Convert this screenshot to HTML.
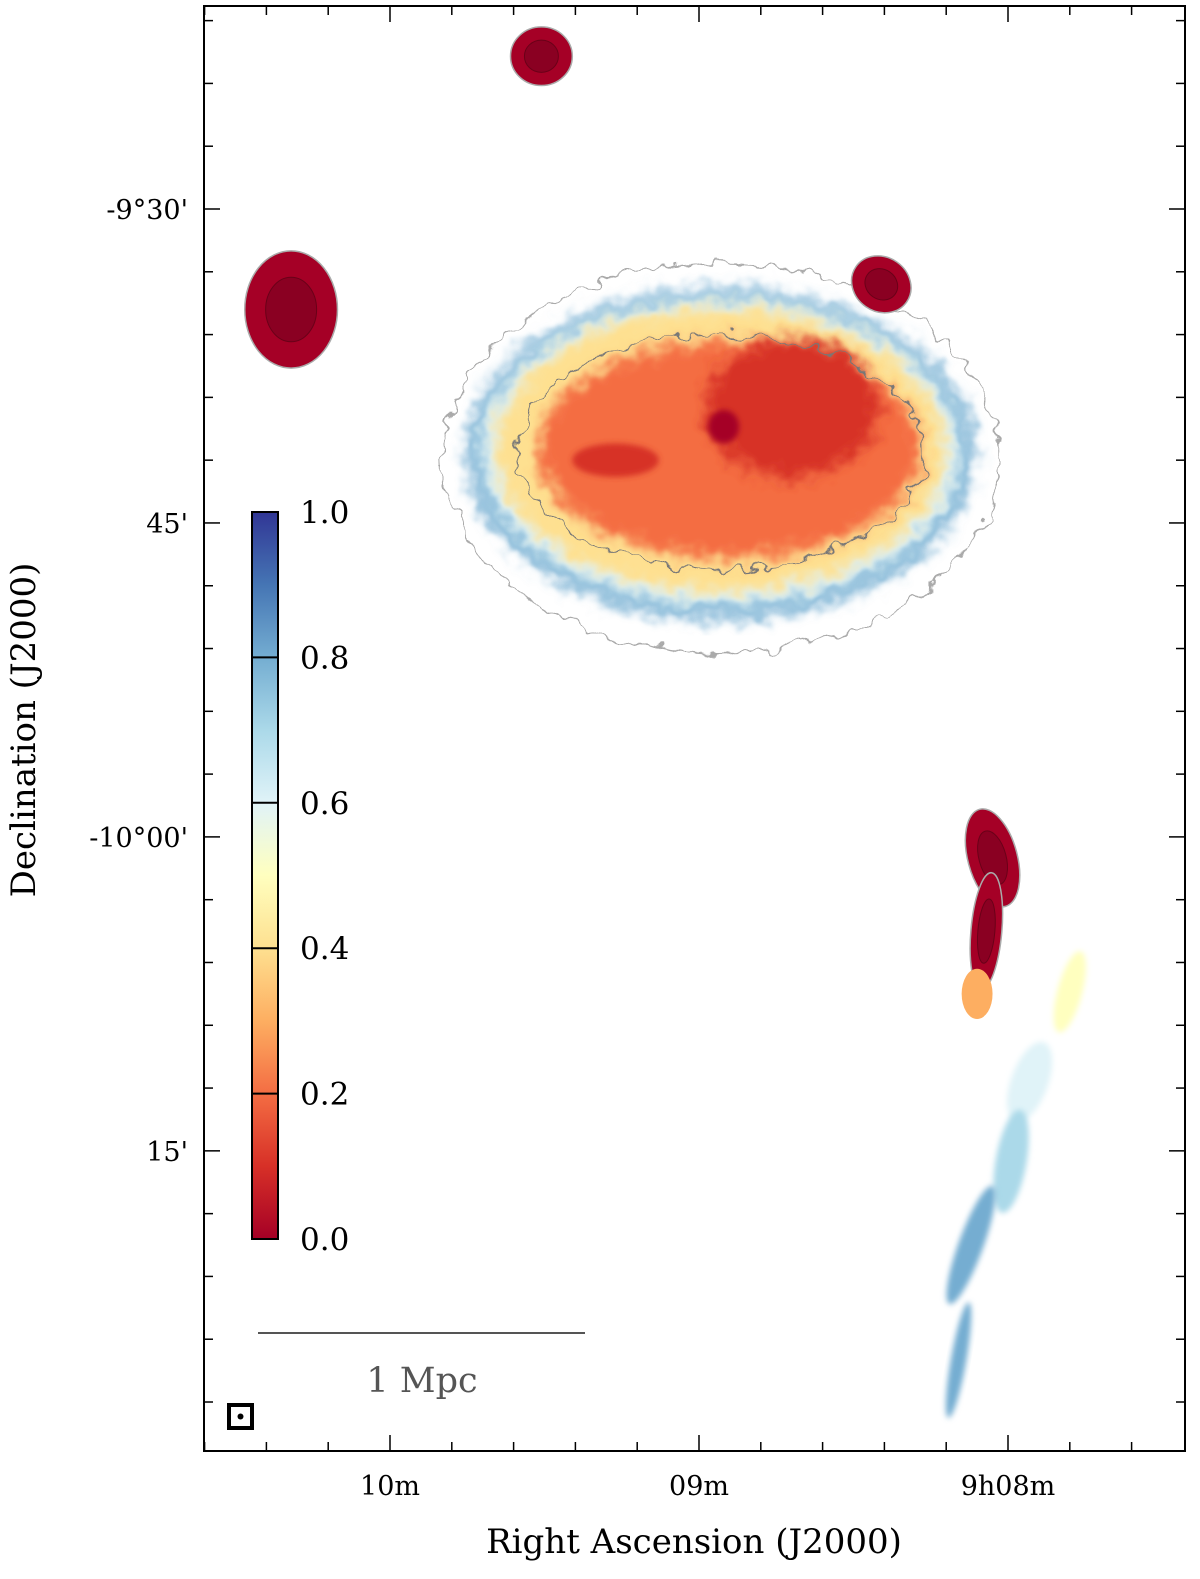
<!DOCTYPE html>
<html><head><meta charset="utf-8"><style>
html,body{margin:0;padding:0;background:#fff;}
svg{display:block;font-family:"DejaVu Serif","Liberation Serif",serif;}
</style></head><body>
<svg id="chart" width="1200" height="1579" viewBox="0 0 1200 1579">
<defs>
<filter id="blur8" x="-30%" y="-30%" width="160%" height="160%"><feGaussianBlur stdDeviation="7"/></filter>
<filter id="blur3" x="-30%" y="-30%" width="160%" height="160%"><feGaussianBlur stdDeviation="3"/></filter>
<filter id="rough" x="-20%" y="-20%" width="140%" height="140%">
<feTurbulence type="fractalNoise" baseFrequency="0.06" numOctaves="2" seed="3" result="n"/>
<feDisplacementMap in="SourceGraphic" in2="n" scale="22" xChannelSelector="R" yChannelSelector="G"/>
</filter>
<linearGradient id="cbar" x1="0" y1="1" x2="0" y2="0">
<stop offset="0" stop-color="#a50026"/><stop offset="0.1" stop-color="#d73027"/><stop offset="0.2" stop-color="#f46d43"/>
<stop offset="0.3" stop-color="#fdae61"/><stop offset="0.4" stop-color="#fee090"/><stop offset="0.5" stop-color="#ffffbf"/>
<stop offset="0.6" stop-color="#e0f3f8"/><stop offset="0.7" stop-color="#abd9e9"/><stop offset="0.8" stop-color="#74add1"/>
<stop offset="0.9" stop-color="#4575b4"/><stop offset="1" stop-color="#313695"/></linearGradient>
</defs>
<g id="marks"></g>
<g id="axes"></g>
</svg>
<script>
// Axis data
const raTicks = [10, 9, 8];            // minutes past 9h
const raLabels = ['10m', '09m', '9h08m'];
const decTicks = [30, 45, 60, 75];     // arcmin below -9 deg
const decLabels = ["-9°30'", "45'", "-10°00'", "15'"];
const cbTicks = [0.0, 0.2, 0.4, 0.6, 0.8, 1.0];
// Emission layers: ra(min), dec(arcmin), rx(min), ry(arcmin), value
const haloRa = [8.93, 8.93, 8.93, 8.90, 8.70, 8.92, 9.27];
const haloDec = [41.7, 41.6, 41.5, 41.5, 39.5, 40.4, 42.0];
const haloRx = [0.82, 0.78, 0.73, 0.62, 0.28, 0.05, 0.14];
const haloRy = [7.9, 7.4, 6.8, 5.2, 3.3, 0.8, 0.8];
const haloVal = [0.75, 0.55, 0.35, 0.2, 0.1, 0.0, 0.12];
const srcRa = [9.51, 10.32, 8.41, 8.05, 8.07, 8.10, 7.80, 7.93, 7.99, 8.12, 8.16];
const srcDec = [22.7, 34.8, 33.6, 61.0, 64.5, 67.5, 67.4, 71.7, 75.5, 79.5, 85.0];
const srcRx = [0.10, 0.15, 0.10, 0.08, 0.05, 0.05, 0.04, 0.06, 0.05, 0.04, 0.025];
const srcRy = [1.4, 2.8, 1.3, 2.4, 2.8, 1.2, 2.0, 2.0, 2.5, 3.0, 2.8];
const srcVal = [0.0, 0.0, 0.0, 0.0, 0.02, 0.25, 0.5, 0.55, 0.7, 0.78, 0.8];
const srcRot = [0, 0, 35, -15, 5, 0, 15, 20, 10, 20, 10];

const X0 = 204, X1 = 1185, Y0 = 6, Y1 = 1451;
const xOf = ra => 1008 - (ra - 8) * 309;
const yOf = dec => 209 + (dec - 30) * 20.93;
const cbY = v => 1239 - v * 727;
const ns = 'http://www.w3.org/2000/svg';
function mk(tag, attrs, parent) { const e = document.createElementNS(ns, tag); for (const k in attrs) e.setAttribute(k, attrs[k]); parent.appendChild(e); return e; }
const stops = ['#a50026','#d73027','#f46d43','#fdae61','#fee090','#ffffbf','#e0f3f8','#abd9e9','#74add1','#4575b4','#313695'];
function cmap(v) { const i = Math.max(0, Math.min(10, Math.round(v * 10))); return stops[i]; }
const marks = document.getElementById('marks');
const axes = document.getElementById('axes');

// contour outlines around halo
const c1 = mk('ellipse', {cx: xOf(8.93), cy: yOf(41.9), rx: 0.9 * 309, ry: 9.3 * 20.93, fill: 'none', stroke: '#aaa', 'stroke-width': 1.5, filter: 'url(#rough)'}, marks);


// halo
const hg = mk('g', {filter: 'url(#rough)'}, marks);


for (let i = 0; i < haloRa.length; i++) {
  const e = mk('ellipse', {cx: xOf(haloRa[i]), cy: yOf(haloDec[i]), rx: haloRx[i] * 309, ry: haloRy[i] * 20.93,
    fill: cmap(haloVal[i]), filter: i >= 5 ? 'url(#blur3)' : 'url(#blur8)'}, i >= 5 ? marks : hg);
  
  
}
const c2 = mk('ellipse', {cx: xOf(8.93), cy: yOf(41.6), rx: 0.66 * 309, ry: 5.6 * 20.93, fill: 'none', stroke: '#777', 'stroke-width': 1.2, filter: 'url(#rough)'}, marks);


// sources
for (let i = 0; i < srcRa.length; i++) {
  const cx = xOf(srcRa[i]), cy = yOf(srcDec[i]);
  const e = mk('ellipse', {cx: cx, cy: cy, rx: srcRx[i] * 309, ry: srcRy[i] * 20.93, fill: cmap(srcVal[i]),
    stroke: srcVal[i] < 0.05 ? '#aaa' : 'none', 'stroke-width': 1.5, transform: `rotate(${srcRot[i]} ${cx} ${cy})`,
    filter: srcVal[i] > 0.3 ? 'url(#blur3)' : ''}, marks);
  
  
  if (srcVal[i] < 0.05) {
    const c = mk('ellipse', {cx: cx, cy: cy, rx: srcRx[i] * 309 * 0.55, ry: srcRy[i] * 20.93 * 0.55, fill: '#8a0022', stroke: '#6a0018', 'stroke-width': 1, transform: `rotate(${srcRot[i]} ${cx} ${cy})`}, marks);
    
    
  }
}

// frame
const fr = mk('rect', {x: X0, y: Y0, width: X1 - X0, height: Y1 - Y0, fill: 'none', stroke: '#000', 'stroke-width': 2}, axes);


for (let ra = 7.2; ra <= 10.6; ra += 0.2) {
  const x = xOf(ra); if (x < X0 || x > X1) continue;
  const major = Math.abs(ra - Math.round(ra)) < 0.01;
  const L = major ? 16 : 9;
  const t1 = mk('line', {x1: x, x2: x, y1: Y1, y2: Y1 - L, stroke: '#000', 'stroke-width': 1.5}, axes);
  
  
  const t2 = mk('line', {x1: x, x2: x, y1: Y0, y2: Y0 + L, stroke: '#000', 'stroke-width': 1.5}, axes);
  
  
}
for (let d = 21; d <= 90; d += 3) {
  const y = yOf(d); if (y < Y0 || y > Y1) continue;
  const major = d % 15 === 0;
  const L = major ? 16 : 9;
  const t1 = mk('line', {x1: X0, x2: X0 + L, y1: y, y2: y, stroke: '#000', 'stroke-width': 1.5}, axes);
  
  
  const t2 = mk('line', {x1: X1, x2: X1 - L, y1: y, y2: y, stroke: '#000', 'stroke-width': 1.5}, axes);
  
  
}
raTicks.forEach((ra, i) => {
  const t = mk('text', {x: xOf(ra), y: 1495, 'text-anchor': 'middle', 'font-size': 27}, axes);
  t.textContent = raLabels[i];
  
  
});
decTicks.forEach((d, i) => {
  const t = mk('text', {x: 188, y: yOf(d) + 10, 'text-anchor': 'end', 'font-size': 27}, axes);
  t.textContent = decLabels[i];
  
  
});
const xt = mk('text', {x: 694, y: 1553, 'text-anchor': 'middle', 'font-size': 34}, axes);
xt.textContent = 'Right Ascension (J2000)';


const yt = mk('text', {x: 35, y: 730, 'text-anchor': 'middle', 'font-size': 34, transform: 'rotate(-90 35 730)'}, axes);
yt.textContent = 'Declination (J2000)';



// colorbar
const cb = mk('rect', {x: 252, y: cbY(1), width: 26, height: cbY(0) - cbY(1), fill: 'url(#cbar)', stroke: '#000', 'stroke-width': 2}, axes);


cbTicks.forEach(v => {
  const l = mk('line', {x1: 252, x2: 278, y1: cbY(v), y2: cbY(v), stroke: '#000', 'stroke-width': 2}, axes);
  
  
  const t = mk('text', {x: 300, y: cbY(v) + 11, 'font-size': 31}, axes);
  t.textContent = v.toFixed(1);
  
  
});
// scale bar
const sb = mk('line', {x1: 258, x2: 585, y1: 1333, y2: 1333, stroke: '#555', 'stroke-width': 2}, axes);


const st = mk('text', {x: 422, y: 1392, 'text-anchor': 'middle', 'font-size': 35, fill: '#555'}, axes);
st.textContent = '1 Mpc';


const bm = mk('rect', {x: 229, y: 1405, width: 23, height: 23, fill: 'none', stroke: '#000', 'stroke-width': 4}, axes);


const bd = mk('circle', {cx: 240.5, cy: 1416.5, r: 3, fill: '#000'}, axes);


</script>
</body></html>
